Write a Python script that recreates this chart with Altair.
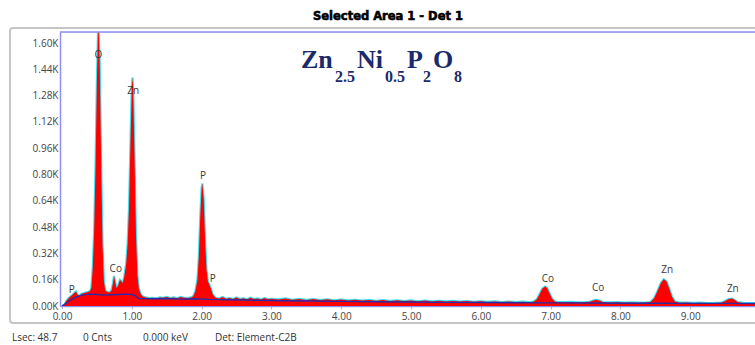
import altair as alt
import pandas as pd

# EDS spectrum: energy (keV) and counts
energy = [
    0.00, 0.03, 0.06, 0.09, 0.12, 0.15, 0.18, 0.20, 0.22, 0.25, 0.28, 0.31, 0.34, 0.37, 0.40,
    0.42, 0.44, 0.46, 0.48, 0.50, 0.52, 0.54, 0.56, 0.58, 0.60, 0.62, 0.65, 0.68, 0.71, 0.73,
    0.745, 0.76, 0.78, 0.80, 0.83, 0.85, 0.87, 0.89, 0.92, 0.94, 0.96, 0.98, 1.00, 1.01, 1.02,
    1.04, 1.06, 1.08, 1.10, 1.13, 1.16, 1.20, 1.25, 1.30, 1.35, 1.40, 1.45, 1.50, 1.55, 1.60,
    1.65, 1.70, 1.75, 1.80, 1.85, 1.88, 1.91, 1.94, 1.96, 1.98, 2.00, 2.01, 2.03, 2.05, 2.07,
    2.09, 2.11, 2.13, 2.16, 2.20, 2.25, 2.30, 2.35, 2.40, 2.45, 2.50, 2.55, 2.60, 2.65, 2.70,
    2.75, 2.80, 2.85, 2.90, 2.95, 3.00, 3.10, 3.20, 3.30, 3.40, 3.50, 3.60, 3.70, 3.80, 3.90,
    4.00, 4.10, 4.20, 4.30, 4.40, 4.50, 4.60, 4.70, 4.80, 4.90, 5.00, 5.10, 5.20, 5.30, 5.40,
    5.50, 5.60, 5.70, 5.80, 5.90, 6.00, 6.10, 6.20, 6.30, 6.40, 6.50, 6.60, 6.70, 6.76, 6.80,
    6.84, 6.88, 6.92, 6.95, 6.98, 7.02, 7.06, 7.10, 7.20, 7.30, 7.40, 7.50, 7.56, 7.60, 7.65,
    7.70, 7.75, 7.85, 7.95, 8.05, 8.15, 8.25, 8.35, 8.43, 8.48, 8.53, 8.58, 8.62, 8.66, 8.70,
    8.74, 8.78, 8.85, 8.95, 9.05, 9.15, 9.25, 9.35, 9.45, 9.50, 9.55, 9.60, 9.64, 9.68, 9.75,
    9.85, 9.93,
]
counts = [
    0, 5, 30, 45, 58, 68, 80, 88, 70, 62, 74, 78, 82, 85, 90,
    110, 230, 450, 850, 1380, 1750, 1480, 900, 380, 150, 95, 85, 82, 95, 140,
    182, 150, 110, 120, 158, 150, 140, 175, 260, 380, 600, 980, 1340, 1390, 1310,
    880, 430, 190, 105, 70, 58, 52, 48, 50, 46, 52, 50, 55, 48, 52,
    47, 55, 50, 48, 52, 60, 90, 160, 300, 540, 720, 745, 650, 400, 220,
    150, 130, 110, 70, 50, 45, 55, 44, 48, 42, 52, 43, 47, 41, 50,
    42, 46, 40, 48, 41, 44, 40, 46, 38, 43, 37, 42, 36, 41, 35,
    39, 34, 38, 33, 37, 32, 36, 31, 35, 30, 34, 29, 33, 28, 32,
    28, 31, 27, 30, 26, 29, 25, 28, 24, 27, 24, 26, 23, 28, 40,
    70, 105, 118, 110, 80, 45, 28, 24, 23, 25, 22, 24, 26, 32, 38,
    33, 24, 22, 23, 21, 22, 20, 21, 24, 45, 90, 140, 162, 150, 105,
    55, 28, 20, 21, 19, 20, 18, 19, 21, 30, 42, 45, 36, 24, 19,
    18, 18,
]

# Fitted background
bg_energy = [0.00, 0.05, 0.10, 0.15, 0.20, 0.30, 0.40, 0.50, 0.60, 0.70, 0.80, 0.90, 1.00,
             1.05, 1.10, 1.30, 1.50, 1.70, 1.90, 2.10, 2.40, 2.80, 3.20, 3.60, 4.00, 4.50,
             5.00, 5.50, 6.00, 6.50, 7.00, 7.50, 8.00, 8.50, 9.00, 9.50, 9.93]
bg_counts = [0, 15, 30, 42, 55, 68, 72, 70, 66, 68, 70, 72, 70,
             62, 46, 44, 46, 42, 44, 40, 38, 35, 32, 30, 28, 26,
             24, 22, 21, 20, 19, 18, 17, 17, 16, 16, 15]

# Element line labels
label_text = ["P", "O", "Co", "Zn", "P", "P", "Co", "Co", "Zn", "Zn"]
label_energy = [0.14, 0.52, 0.77, 1.02, 2.02, 2.16, 6.96, 7.68, 8.67, 9.61]
label_height = [97, 1526, 225, 1307, 790, 164, 164, 109, 219, 103]

# Axis ticks
x_ticks = [0, 1, 2, 3, 4, 5, 6, 7, 8, 9]
y_ticks = [0, 160, 320, 480, 640, 800, 960, 1120, 1280, 1440, 1600]

spec = pd.DataFrame({"energy": energy, "counts": counts})
bg = pd.DataFrame({"energy": bg_energy, "counts": bg_counts})
labels = pd.DataFrame({"text": label_text, "energy": label_energy, "counts": label_height})
one_row = pd.DataFrame({"k": [0]})  # single datum for annotation marks

W, H = 695, 274
FRAME_BLUE = "#8f8ff0"
LABEL_FONT = "Open Sans"

x_scale = alt.Scale(domain=[-0.029, 9.928], nice=False, zero=False)
y_scale = alt.Scale(domain=[0, 1667], nice=False)

x_axis = alt.Axis(values=x_ticks, format=".2f", grid=False, domainColor=FRAME_BLUE,
                  domainWidth=1.5, tickColor="#bbbbbb", tickSize=3, labelPadding=2,
                  labelFont=LABEL_FONT, labelFontSize=10, labelColor="#444444",
                  labelFlush=False, labelOverlap=False)
y_axis = alt.Axis(values=y_ticks, grid=False, domainColor=FRAME_BLUE, domainWidth=1.5,
                  ticks=False, labelPadding=2, labelOverlap=False,
                  labelExpr="format(datum.value / 1000, '.2f') + 'K'",
                  labelFont=LABEL_FONT, labelFontSize=10, labelColor="#444444")
x_enc = alt.X("energy:Q", scale=x_scale, title=None, axis=x_axis)
y_enc = alt.Y("counts:Q", scale=y_scale, title=None, axis=y_axis)

# outer panel frame
frame = alt.Chart(one_row).mark_rect(fillOpacity=0, stroke="#c6c6c6", strokeWidth=2,
                                     cornerRadius=3).encode(
    x=alt.value(-50), x2=alt.value(760), y=alt.value(-4), y2=alt.value(291))

top_line = alt.Chart(one_row).mark_rule(color=FRAME_BLUE, strokeWidth=1.5).encode(
    x=alt.value(0), x2=alt.value(W), y=alt.value(0))

outline = alt.Chart(spec).mark_line(color="#3fe0ee", strokeWidth=2.2, clip=True).encode(
    x=x_enc, y=y_enc)
fill = alt.Chart(spec).mark_area(color="#ff0000", clip=True).encode(x=x_enc, y=y_enc)
background = alt.Chart(bg).mark_line(color="#2b2ba6", strokeWidth=1.4, clip=True).encode(
    x=x_enc, y=y_enc)

peak_labels = alt.Chart(labels).mark_text(font=LABEL_FONT, fontSize=10, color="#3a3a3a").encode(
    x=x_enc, y=y_enc, text="text:N")

title = alt.Chart(one_row).mark_text(text="Selected Area 1 - Det 1", font="DejaVu Sans",
                                     fontWeight="bold", fontSize=11.5, color="#000000",
                                     stroke="#000000", strokeWidth=0.6,
                                     baseline="middle").encode(
    x=alt.value(328), y=alt.value(-15))

# chemical formula with subscripts
NAVY = "#1b2a6b"
SERIF = "Liberation Serif"
formula_parts = []
for txt, xpos, big in [("Zn", 241, True), ("2.5", 275, False), ("Ni", 297, True),
                       ("0.5", 325, False), ("P", 347, True), ("2", 363, False),
                       ("O", 373, True), ("8", 394, False)]:
    formula_parts.append(
        alt.Chart(one_row).mark_text(text=txt, font=SERIF, fontWeight="bold",
                                     fontSize=26 if big else 16, color=NAVY, align="left",
                                     baseline="alphabetic").encode(
            x=alt.value(xpos), y=alt.value(36 if big else 50)))

footer_parts = []
for txt, xpos in [("Lsec: 48.7", -48), ("0 Cnts", 23), ("0.000 keV", 83),
                  ("Det: Element-C2B", 155)]:
    footer_parts.append(
        alt.Chart(one_row).mark_text(text=txt, font=LABEL_FONT, fontSize=10, color="#333333",
                                     align="left", baseline="middle").encode(
            x=alt.value(xpos), y=alt.value(306)))

chart = alt.layer(
    frame, outline, fill, background, top_line, peak_labels, title,
    *formula_parts, *footer_parts,
).properties(
    width=W, height=H,
    autosize=alt.AutoSizeParams(type="none"),
    padding={"left": 60, "top": 32, "right": 0, "bottom": 39},
).configure_view(stroke=None).configure(background="white")

chart.save("out.html", embed_options={"renderer": "svg", "actions": False})
